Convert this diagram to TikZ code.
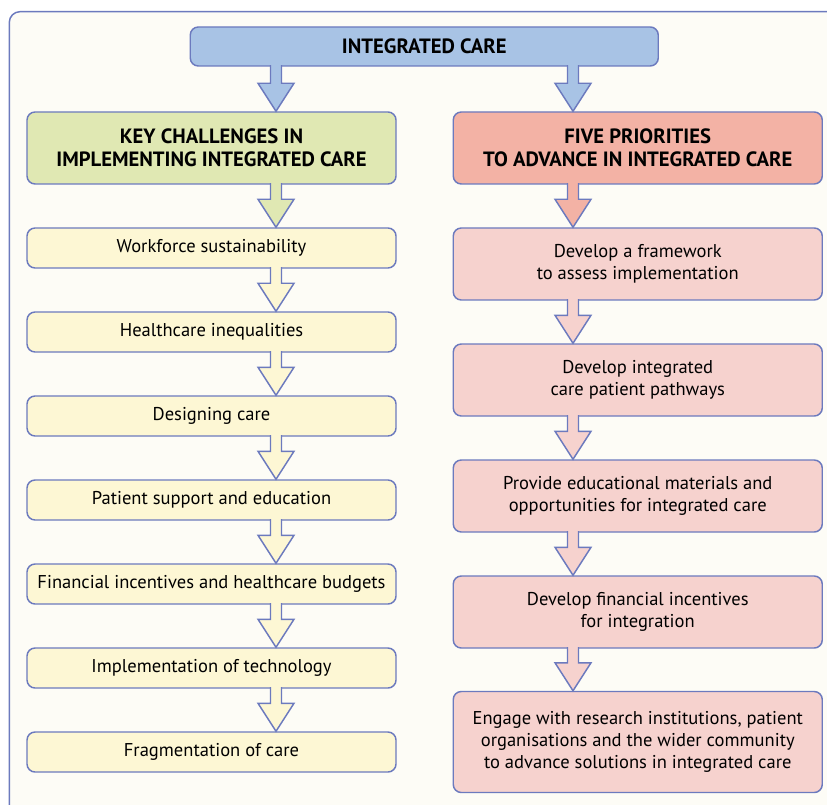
\documentclass[tikz,border=0pt]{standalone}
\usepackage{fontspec}
\setmainfont{PT Sans}
\usetikzlibrary{calc}

\definecolor{lineblue}{RGB}{108,122,190}
\definecolor{bgcream}{RGB}{253,252,246}
\definecolor{topblue}{RGB}{168,195,229}
\definecolor{headgreen}{RGB}{224,232,179}
\definecolor{headpink}{RGB}{243,178,165}
\definecolor{itemyellow}{RGB}{253,247,212}
\definecolor{itempink}{RGB}{246,210,206}

\tikzset{every picture/.style={line width=1.1pt}}
\tikzset{
  basebox/.style={draw=lineblue, rounded corners=6pt, align=center, inner sep=0pt, text=black},
  topbox/.style={basebox, fill=topblue, minimum width=351pt, minimum height=29.25pt, font=\fontsize{15.5}{17.5}\selectfont\bfseries},
  headbox/.style={basebox, minimum width=276.75pt, minimum height=54pt, font=\fontsize{15.5}{17.5}\selectfont\bfseries},
  leftbox/.style={basebox, fill=itemyellow, minimum width=276.75pt, minimum height=30pt, font=\fontsize{13.9}{16.3}\selectfont},
  rightbox/.style={basebox, fill=itempink, minimum width=276.75pt, minimum height=54pt, font=\fontsize{13.9}{16.3}\selectfont},
  arrowline/.style={draw=lineblue, line join=miter}
}

% block arrow: fill, from node, to node, axis coordinate
\newcommand{\blockarrow}[4]{%
\draw [arrowline, fill=#1] ($(#2.south -| #4)+(-5.5,-1.5)$) -- ($(#3.north -| #4)+(-5.5,-28)$) -- ($(#3.north -| #4)+(-18,-28)$) -- (#3.north -| #4) -- ($(#3.north -| #4)+(18,-28)$) -- ($(#3.north -| #4)+(5.5,-28)$) -- ($(#2.south -| #4)+(5.5,-1.5)$) ;}

\begin{document}
\begin{tikzpicture}[x=0.75pt,y=0.75pt,yscale=-1,xscale=1]
\useasboundingbox (0,0) rectangle (827,805);
\clip (0,0) rectangle (827,805);

%Shape: Frame
\fill [white] (0,0) rectangle (827,805);
\draw [draw=lineblue, fill=bgcream, rounded corners=8pt] (9.3,11.7) rectangle (845,830);

%Axes of the arrows
\coordinate (axL) at (276,0);
\coordinate (axR) at (573,0);

% Text Node
\node [topbox] (integrated) at (424.25,46.5) {INTEGRATED CARE};
% Text Node
\node [headbox, fill=headgreen] (challenges) at (211.5,148) {KEY CHALLENGES IN\\IMPLEMENTING INTEGRATED CARE};
% Text Node
\node [headbox, fill=headpink] (priorities) at (637.75,148) {FIVE PRIORITIES\\TO ADVANCE IN INTEGRATED CARE};

% Left column
\node [leftbox] (workforce) at (211.5,248) {Workforce sustainability};
\node [leftbox] (inequal) at (211.5,332) {Healthcare inequalities};
\node [leftbox] (designing) at (211.5,416) {Designing care};
\node [leftbox] (support) at (211.5,500) {Patient support and education};
\node [leftbox] (budgets) at (211.5,584) {Financial incentives and healthcare budgets};
\node [leftbox] (technology) at (211.5,668) {Implementation of technology};
\node [leftbox] (fragment) at (211.5,752) {Fragmentation of care};

% Right column
\node [rightbox] (framework) at (637.75,264) {Develop a framework\\to assess implementation};
\node [rightbox] (pathways) at (637.75,380) {Develop integrated\\care patient pathways};
\node [rightbox] (education) at (637.75,496) {Provide educational materials and\\opportunities for integrated care};
\node [rightbox] (incentives) at (637.75,612) {Develop financial incentives\\for integration};
\node [rightbox, minimum height=75.75pt] (engage) at (637.75,742) {Engage with research institutions, patient\\organisations and the wider community\\to advance solutions in integrated care};

%Block arrows
\blockarrow{topblue}{integrated}{challenges}{axL}
\blockarrow{topblue}{integrated}{priorities}{axR}
\blockarrow{headgreen}{challenges}{workforce}{axL}
\blockarrow{headpink}{priorities}{framework}{axR}
\foreach \a/\b in {workforce/inequal, inequal/designing, designing/support, support/budgets, budgets/technology, technology/fragment}
  {\blockarrow{itemyellow}{\a}{\b}{axL}}
\foreach \a/\b in {framework/pathways, pathways/education, education/incentives, incentives/engage}
  {\blockarrow{itempink}{\a}{\b}{axR}}

\end{tikzpicture}
\end{document}
